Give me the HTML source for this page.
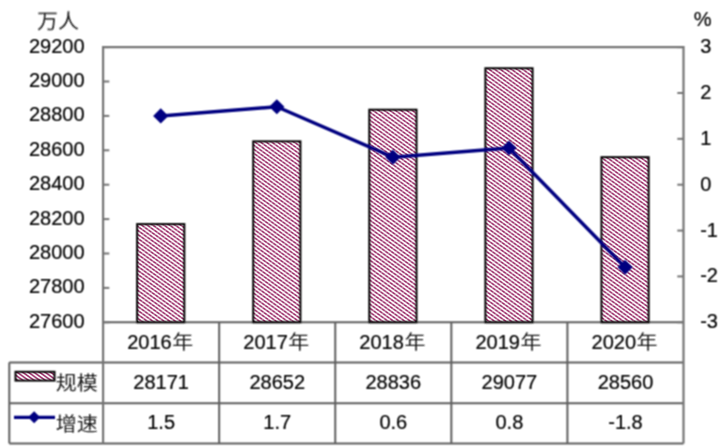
<!DOCTYPE html>
<html><head><meta charset="utf-8"><title>农民工规模及增速</title>
<style>
html,body{margin:0;padding:0;background:#fff;}
svg{display:block;will-change:transform;}
text{font-family:'Liberation Sans', Arial, 'Noto Sans CJK SC', sans-serif;font-size:20px;fill:#000;stroke:#000;stroke-width:0.2px;}
.cjk{font-family:'Liberation Sans', 'Noto Sans CJK SC', sans-serif;font-weight:400;font-size:21px;fill:#1a1a1a;stroke:none;}
</style></head><body>
<svg width="725" height="448" viewBox="0 0 725 448">
<defs>
<pattern id="hatch" patternUnits="userSpaceOnUse" width="4" height="4" patternTransform="scale(1.4,1.0)">
<rect width="4" height="4" fill="#fff"/>
<path d="M-1,-1 L5,5 M-1,3 L1,5 M3,-1 L5,1" stroke="#9c2f6a" stroke-width="1.35"/>
</pattern>
<pattern id="mod" patternUnits="userSpaceOnUse" width="6" height="6" patternTransform="scale(1,1)">
<path d="M-1,7 L7,-1 M-1,1 L1,-1 M5,7 L7,5" stroke="#fff" stroke-opacity="0.3" stroke-width="1.5"/>
</pattern>
<filter id="soft" x="0" y="0" width="725" height="448" filterUnits="userSpaceOnUse"><feConvolveMatrix order="3" kernelMatrix="1 2 1 2 4 2 1 2 1" divisor="16" edgeMode="duplicate" preserveAlpha="false"/></filter>
</defs>
<rect width="725" height="448" fill="#fff"/>

<rect x="137.14" y="224.09" width="47.2" height="98.21" fill="url(#hatch)"/>
<rect x="137.14" y="224.09" width="47.2" height="98.21" fill="url(#mod)"/>
<rect x="253.22" y="141.36" width="47.2" height="180.94" fill="url(#hatch)"/>
<rect x="253.22" y="141.36" width="47.2" height="180.94" fill="url(#mod)"/>
<rect x="369.30" y="109.71" width="47.2" height="212.59" fill="url(#hatch)"/>
<rect x="369.30" y="109.71" width="47.2" height="212.59" fill="url(#mod)"/>
<rect x="485.38" y="68.26" width="47.2" height="254.04" fill="url(#hatch)"/>
<rect x="485.38" y="68.26" width="47.2" height="254.04" fill="url(#mod)"/>
<rect x="601.46" y="157.18" width="47.2" height="165.12" fill="url(#hatch)"/>
<rect x="601.46" y="157.18" width="47.2" height="165.12" fill="url(#mod)"/>
<rect x="15.5" y="371.8" width="39" height="8.8" fill="url(#hatch)"/>
<g filter="url(#soft)">
<line x1="103.1" y1="322.3" x2="683.5" y2="322.3" stroke="#5e5e5e" stroke-width="2"/>
<line x1="9.3" y1="362.4" x2="683.5" y2="362.4" stroke="#5e5e5e" stroke-width="2"/>
<line x1="9.3" y1="403.2" x2="683.5" y2="403.2" stroke="#5e5e5e" stroke-width="2"/>
<line x1="9.3" y1="443.4" x2="683.5" y2="443.4" stroke="#5e5e5e" stroke-width="2"/>
<line x1="9.3" y1="362.4" x2="9.3" y2="443.4" stroke="#5e5e5e" stroke-width="2"/>
<line x1="219.18" y1="322.3" x2="219.18" y2="443.4" stroke="#5e5e5e" stroke-width="2"/>
<line x1="335.26" y1="322.3" x2="335.26" y2="443.4" stroke="#5e5e5e" stroke-width="2"/>
<line x1="451.34" y1="322.3" x2="451.34" y2="443.4" stroke="#5e5e5e" stroke-width="2"/>
<line x1="567.42" y1="322.3" x2="567.42" y2="443.4" stroke="#5e5e5e" stroke-width="2"/>
<path d="M103.1,443.4 L103.1,47.1 L683.5,47.1 L683.5,443.4" fill="none" stroke="#747474" stroke-width="2.2"/>
<line x1="103.1" y1="47.10" x2="109.3" y2="47.10" stroke="#747474" stroke-width="2"/>
<text x="84.6" y="52.50" text-anchor="end">29200</text>
<line x1="103.1" y1="81.50" x2="109.3" y2="81.50" stroke="#747474" stroke-width="2"/>
<text x="84.6" y="86.90" text-anchor="end">29000</text>
<line x1="103.1" y1="115.90" x2="109.3" y2="115.90" stroke="#747474" stroke-width="2"/>
<text x="84.6" y="121.30" text-anchor="end">28800</text>
<line x1="103.1" y1="150.30" x2="109.3" y2="150.30" stroke="#747474" stroke-width="2"/>
<text x="84.6" y="155.70" text-anchor="end">28600</text>
<line x1="103.1" y1="184.70" x2="109.3" y2="184.70" stroke="#747474" stroke-width="2"/>
<text x="84.6" y="190.10" text-anchor="end">28400</text>
<line x1="103.1" y1="219.10" x2="109.3" y2="219.10" stroke="#747474" stroke-width="2"/>
<text x="84.6" y="224.50" text-anchor="end">28200</text>
<line x1="103.1" y1="253.50" x2="109.3" y2="253.50" stroke="#747474" stroke-width="2"/>
<text x="84.6" y="258.90" text-anchor="end">28000</text>
<line x1="103.1" y1="287.90" x2="109.3" y2="287.90" stroke="#747474" stroke-width="2"/>
<text x="84.6" y="293.30" text-anchor="end">27800</text>
<line x1="103.1" y1="322.30" x2="109.3" y2="322.30" stroke="#747474" stroke-width="2"/>
<text x="84.6" y="327.70" text-anchor="end">27600</text>
<line x1="677.3" y1="47.10" x2="683.5" y2="47.10" stroke="#747474" stroke-width="2"/>
<text x="700.2" y="53.10">3</text>
<line x1="677.3" y1="92.97" x2="683.5" y2="92.97" stroke="#747474" stroke-width="2"/>
<text x="700.2" y="98.97">2</text>
<line x1="677.3" y1="138.83" x2="683.5" y2="138.83" stroke="#747474" stroke-width="2"/>
<text x="700.2" y="144.83">1</text>
<line x1="677.3" y1="184.70" x2="683.5" y2="184.70" stroke="#747474" stroke-width="2"/>
<text x="700.2" y="190.70">0</text>
<line x1="677.3" y1="230.57" x2="683.5" y2="230.57" stroke="#747474" stroke-width="2"/>
<text x="700.2" y="236.57">-1</text>
<line x1="677.3" y1="276.43" x2="683.5" y2="276.43" stroke="#747474" stroke-width="2"/>
<text x="700.2" y="282.43">-2</text>
<line x1="677.3" y1="322.30" x2="683.5" y2="322.30" stroke="#747474" stroke-width="2"/>
<text x="700.2" y="328.30">-3</text>
<rect x="137.14" y="224.09" width="47.2" height="98.21" fill="none" stroke="#000" stroke-width="2.0"/>
<rect x="253.22" y="141.36" width="47.2" height="180.94" fill="none" stroke="#000" stroke-width="2.0"/>
<rect x="369.30" y="109.71" width="47.2" height="212.59" fill="none" stroke="#000" stroke-width="2.0"/>
<rect x="485.38" y="68.26" width="47.2" height="254.04" fill="none" stroke="#000" stroke-width="2.0"/>
<rect x="601.46" y="157.18" width="47.2" height="165.12" fill="none" stroke="#000" stroke-width="2.0"/>
<text class="cjk" transform="translate(37.00,27.70) scale(1,0.95)" text-anchor="start">万人</text>
<text x="693.8" y="26.1">%</text>
<text x="127.20" y="348.95">2016</text>
<text class="cjk" transform="translate(172.28,349.35) scale(1,0.9)" text-anchor="start">年</text>
<text x="161.14" y="389.10" text-anchor="middle">28171</text>
<text x="161.14" y="429.40" text-anchor="middle">1.5</text>
<text x="243.28" y="348.95">2017</text>
<text class="cjk" transform="translate(288.36,349.35) scale(1,0.9)" text-anchor="start">年</text>
<text x="277.22" y="389.10" text-anchor="middle">28652</text>
<text x="277.22" y="429.40" text-anchor="middle">1.7</text>
<text x="359.36" y="348.95">2018</text>
<text class="cjk" transform="translate(404.44,349.35) scale(1,0.9)" text-anchor="start">年</text>
<text x="393.30" y="389.10" text-anchor="middle">28836</text>
<text x="393.30" y="429.40" text-anchor="middle">0.6</text>
<text x="475.44" y="348.95">2019</text>
<text class="cjk" transform="translate(520.52,349.35) scale(1,0.9)" text-anchor="start">年</text>
<text x="509.38" y="389.10" text-anchor="middle">29077</text>
<text x="509.38" y="429.40" text-anchor="middle">0.8</text>
<text x="591.52" y="348.95">2020</text>
<text class="cjk" transform="translate(636.60,349.35) scale(1,0.9)" text-anchor="start">年</text>
<text x="625.46" y="389.10" text-anchor="middle">28560</text>
<text x="625.46" y="429.40" text-anchor="middle">-1.8</text>
<rect x="15.5" y="371.8" width="39" height="8.8" fill="none" stroke="#000" stroke-width="2.0"/>
<text class="cjk" transform="translate(55.80,390.00) scale(1,0.9)" text-anchor="start">规模</text>
<line x1="14" y1="417.3" x2="55" y2="417.3" stroke="#000080" stroke-width="3.3"/>
<path d="M34.1,411.3 L40.1,417.3 L34.1,423.3 L28.1,417.3 Z" fill="#000080"/>
<text class="cjk" transform="translate(55.80,431.00) scale(1,0.9)" text-anchor="start">增速</text>
<path d="M160.74,115.90 L276.82,106.73 L392.90,157.18 L508.98,148.01 L625.06,267.26" fill="none" stroke="#000080" stroke-width="3.5" stroke-linejoin="round"/>
<path d="M160.74,108.30 L168.34,115.90 L160.74,123.50 L153.14,115.90 Z" fill="#000080"/>
<path d="M276.82,99.13 L284.42,106.73 L276.82,114.33 L269.22,106.73 Z" fill="#000080"/>
<path d="M392.90,149.58 L400.50,157.18 L392.90,164.78 L385.30,157.18 Z" fill="#000080"/>
<path d="M508.98,140.41 L516.58,148.01 L508.98,155.61 L501.38,148.01 Z" fill="#000080"/>
<path d="M625.06,259.66 L632.66,267.26 L625.06,274.86 L617.46,267.26 Z" fill="#000080"/>
</g>
</svg>
</body></html>
